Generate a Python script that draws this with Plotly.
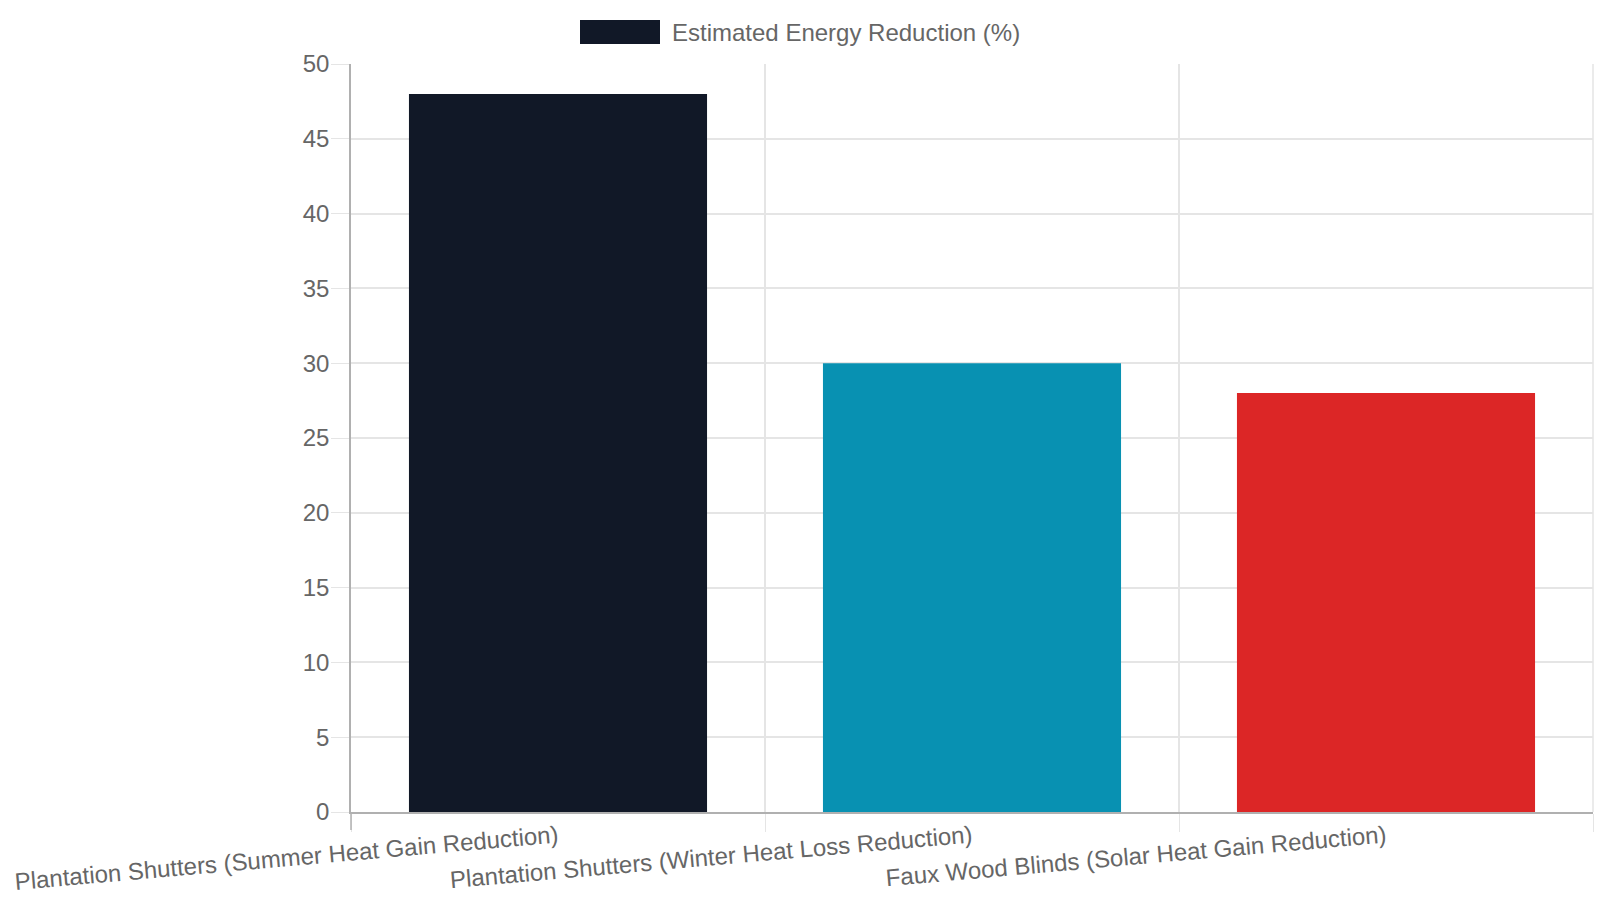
import plotly.graph_objects as go

# data
categories = [
    "Plantation Shutters (Summer Heat Gain Reduction)",
    "Plantation Shutters (Winter Heat Loss Reduction)",
    "Faux Wood Blinds (Solar Heat Gain Reduction)",
]
values = [48, 30, 28]
bar_colors = ["#111827", "#0891b2", "#dc2626"]
series_name = "Estimated Energy Reduction (%)"
y_ticks = list(range(0, 51, 5))

W, H = 1600, 900
L, R, T, B = 351, 7, 64, 88
FONT = "Liberation Sans, Arial, sans-serif"
GRID = "#e5e5e5"
AXIS = "#b0b0b0"


def px_x(p):
    return (p - L) / (W - L - R)


def px_y(p):
    return (H - B - p) / (H - T - B)


fig = go.Figure()
fig.add_trace(go.Bar(x=categories, y=values, name=series_name,
                     marker=dict(color=bar_colors, line=dict(width=0)),
                     width=0.72, showlegend=False))

# chart.js style legend: wide colour box + label
fig.add_shape(type="rect", xref="paper", yref="paper",
              x0=px_x(580), x1=px_x(660), y0=px_y(44), y1=px_y(20),
              fillcolor=bar_colors[0], line=dict(width=0))
fig.add_annotation(text=series_name, xref="paper", yref="paper",
                   x=px_x(670), y=px_y(32), xanchor="left", yanchor="middle",
                   showarrow=False, font=dict(size=24, color="#666666", family=FONT))

# right-hand grid line at the last category boundary
fig.add_shape(type="line", xref="paper", yref="paper", x0=1, x1=1, y0=0, y1=1,
              line=dict(color=GRID, width=1.5), layer="below")
# y axis line carries on below the x axis like a tick
fig.add_shape(type="line", xref="paper", yref="paper", x0=0, x1=0, y0=0, y1=px_y(830),
              line=dict(color=AXIS, width=1.5))

fig.update_xaxes(type="category", tickson="boundaries", showgrid=True, gridcolor=GRID,
                 gridwidth=1.5, ticks="outside", ticklen=18, tickcolor=GRID,
                 showline=True, linecolor=AXIS, linewidth=1.5, automargin=False,
                 tickangle=-5, tickfont=dict(size=24, color="#666666", family=FONT))
fig.update_yaxes(range=[0, 50], tickvals=y_ticks, showgrid=True, gridcolor=GRID,
                 gridwidth=1.5, ticks="outside", ticklen=18, tickcolor=GRID,
                 showline=True, linecolor=AXIS, linewidth=1.5, zeroline=False,
                 automargin=False, ticklabelstandoff=-3,
                 tickfont=dict(size=24, color="#666666", family=FONT))

fig.update_layout(width=W, height=H, margin=dict(l=L, r=R, t=T, b=B),
                  plot_bgcolor="white", paper_bgcolor="white",
                  font=dict(family=FONT, color="#666666"))

# drop the browser's default body margin so the figure sits at the page corner
fig.write_html("out.html", config={"displayModeBar": False},
               post_script="document.body.style.margin = '0';")
